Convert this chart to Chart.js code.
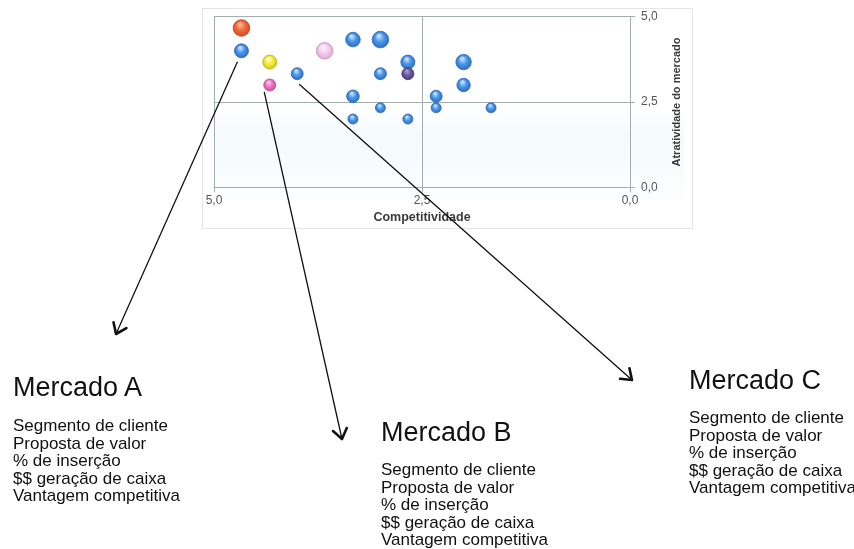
<!DOCTYPE html>
<html>
<head>
<meta charset="utf-8">
<script src="https://cdn.jsdelivr.net/npm/chart.js@4.4.1/dist/chart.umd.min.js"></script>
<style>
  html, body { margin: 0; padding: 0; background: #ffffff; }
  #wrap { position: relative; width: 854px; height: 549px; overflow: hidden; }
  #c { position: absolute; left: 0; top: 0; }
  .blk { position: absolute; font-family: "Liberation Sans", Arial, sans-serif; color: #111; }
  .ttl { font-size: 27px; line-height: 30px; white-space: nowrap; }
  .body { font-size: 17px; line-height: 17.6px; white-space: nowrap; }
</style>
</head>
<body>
<div id="wrap">
  <canvas id="c" width="854" height="549"></canvas>
  <div class="blk ttl" style="left:13px; top:372px;">Mercado A</div>
  <div class="blk body" style="left:13px; top:417px;">Segmento de cliente<br>Proposta de valor<br>% de inserção<br>$$ geração de caixa<br>Vantagem competitiva</div>
  <div class="blk ttl" style="left:381px; top:417px;">Mercado B</div>
  <div class="blk body" style="left:381px; top:461px;">Segmento de cliente<br>Proposta de valor<br>% de inserção<br>$$ geração de caixa<br>Vantagem competitiva</div>
  <div class="blk ttl" style="left:689px; top:365px;">Mercado C</div>
  <div class="blk body" style="left:689px; top:409px;">Segmento de cliente<br>Proposta de valor<br>% de inserção<br>$$ geração de caixa<br>Vantagem competitiva</div>
</div>
<script>
// ---- data ----
const xTitle = "Competitividade";
const yTitle = "Atratividade do mercado";
const tickValues = [0, 2.5, 5];

const blueComp = [4.67, 3.33, 3.00, 2.67, 4.00, 3.00, 3.33, 3.00, 3.33, 2.67, 2.33, 2.33, 2.00, 2.00, 1.67];
const blueAtr  = [4.00, 4.33, 4.33, 3.67, 3.33, 3.33, 2.67, 2.33, 2.00, 2.00, 2.67, 2.33, 3.67, 3.00, 2.33];
const blueSize = [7, 7.3, 8.3, 7, 6, 6, 6.3, 5, 5, 5, 6, 5, 7.7, 6.7, 5];

const orangeComp = [4.67];  const orangeAtr = [4.67];  const orangeSize = [8.3];
const yellowComp = [4.33];  const yellowAtr = [3.67];  const yellowSize = [7];
const pinkComp   = [4.33];  const pinkAtr   = [3.00];  const pinkSize   = [6];
const lilacComp  = [3.67];  const lilacAtr  = [4.00];  const lilacSize  = [8.3];
const purpleComp = [2.67];  const purpleAtr = [3.33];  const purpleSize = [6];

function pts(xs, ys, rs) { return xs.map((x, i) => ({ x: x, y: ys[i], r: rs[i] })); }

function glossy(light, base, dark) {
  return (ctx) => {
    const ch = ctx.chart;
    const raw = ctx.raw;
    if (!ch.chartArea || !raw || !ch.scales.x) return base;
    const x = ch.scales.x.getPixelForValue(raw.x);
    const y = ch.scales.y.getPixelForValue(raw.y);
    const r = raw.r;
    const g = ch.ctx.createRadialGradient(x - r * 0.2, y - r * 0.5, r * 0.05, x, y, r * 1.05);
    g.addColorStop(0, light);
    g.addColorStop(0.5, base);
    g.addColorStop(1, dark);
    return g;
  };
}

function ds(data, light, base, dark, edge) {
  return { data: data, backgroundColor: glossy(light, base, dark), borderColor: edge, borderWidth: 0.8, hoverRadius: 0 };
}

const fmt = (v) => v.toFixed(1).replace('.', ',');
const FONT = '"Liberation Sans", Arial, sans-serif';

const deco = {
  id: 'deco',
  beforeDraw(chart) {
    const c = chart.ctx;
    c.save();
    c.fillStyle = '#ffffff';
    c.fillRect(202.5, 8.5, 490, 220);
    c.strokeStyle = '#e4e6e6';
    c.lineWidth = 1;
    c.strokeRect(202.5, 8.5, 490, 220);
    const g = c.createLinearGradient(0, 108, 0, 200);
    g.addColorStop(0, 'rgba(220,238,246,0)');
    g.addColorStop(0.3, 'rgba(220,238,246,0.3)');
    g.addColorStop(1, 'rgba(220,238,246,0.08)');
    c.fillStyle = g;
    c.fillRect(214, 108, 470, 92);
    c.restore();
  },
  afterDraw(chart) {
    const c = chart.ctx;
    const a = chart.chartArea;
    c.save();
    c.fillStyle = '#3a3a3a';
    c.textAlign = 'center';
    c.textBaseline = 'middle';
    c.font = 'bold 12.5px ' + FONT;
    c.fillText(xTitle, (a.left + a.right) / 2, 218);
    c.font = 'bold 11px ' + FONT;
    c.translate(677, (a.top + a.bottom) / 2);
    c.rotate(-Math.PI / 2);
    c.fillText(yTitle, 0, 0);
    c.restore();

    // arrows anchored on bubbles
    const blue0 = chart.getDatasetMeta(5).data[0];
    const blue4 = chart.getDatasetMeta(5).data[4];
    const pink0 = chart.getDatasetMeta(3).data[0];
    arrow(c, blue0.x - 4, blue0.y + 11, 116, 334);
    arrow(c, pink0.x - 5.5, pink0.y + 7, 342, 439);
    arrow(c, blue4.x + 2, blue4.y + 10.5, 632, 380);
  }
};

function arrow(c, x1, y1, x2, y2) {
  c.save();
  c.strokeStyle = '#111';
  c.lineWidth = 1.3;
  c.beginPath();
  c.moveTo(x1, y1);
  c.lineTo(x2, y2);
  c.stroke();
  const ang = Math.atan2(y2 - y1, x2 - x1);
  const L = 12, sp = Math.PI / 5;
  c.lineWidth = 2.6;
  c.lineCap = 'round';
  c.lineJoin = 'round';
  c.beginPath();
  c.moveTo(x2 - L * Math.cos(ang - sp), y2 - L * Math.sin(ang - sp));
  c.lineTo(x2, y2);
  c.lineTo(x2 - L * Math.cos(ang + sp), y2 - L * Math.sin(ang + sp));
  c.stroke();
  c.restore();
}

const gridColor = '#a3adad';

new Chart(document.getElementById('c'), {
  type: 'bubble',
  data: {
    datasets: [
      ds(pts(purpleComp, purpleAtr, purpleSize), '#b0a4dc', '#6c5ca2', '#4a3c78', '#43376e'),
      ds(pts(orangeComp, orangeAtr, orangeSize), '#ffc0a0', '#f26c40', '#cc4a24', '#bc4624'),
      ds(pts(yellowComp, yellowAtr, yellowSize), '#fffde0', '#f6ee3c', '#d0c21e', '#bcae24'),
      ds(pts(pinkComp, pinkAtr, pinkSize), '#ffd8f0', '#ee78c2', '#c8519e', '#b44890'),
      ds(pts(lilacComp, lilacAtr, lilacSize), '#fff6fe', '#f7cdf0', '#dcaad4', '#bc94b4'),
      ds(pts(blueComp, blueAtr, blueSize), '#d6ebff', '#4b98ea', '#2a6cc2', '#2f68b0')
    ]
  },
  options: {
    responsive: false,
    animation: false,
    events: [],
    layout: { padding: { left: 214, top: 16.7, right: 184, bottom: 331.7 } },
    plugins: { legend: { display: false }, tooltip: { enabled: false } },
    scales: {
      x: {
        type: 'linear', reverse: true, min: 0, max: 5,
        afterBuildTicks: (s) => { s.ticks = tickValues.map(v => ({ value: v })); },
        afterFit: (s) => { s.height = 30; },
        grid: { color: gridColor, lineWidth: 1, tickLength: 5, drawTicks: true },
        border: { color: gridColor, width: 1 },
        ticks: { callback: (v) => fmt(v), color: '#555', font: { size: 12, family: FONT }, padding: 1, maxRotation: 0 }
      },
      y: {
        type: 'linear', position: 'right', min: 0, max: 5,
        afterBuildTicks: (s) => { s.ticks = tickValues.map(v => ({ value: v })); },
        afterFit: (s) => { s.width = 40; },
        grid: { color: gridColor, lineWidth: 1, tickLength: 5, drawTicks: true },
        border: { color: gridColor, width: 1 },
        ticks: { callback: (v) => fmt(v), color: '#555', font: { size: 12, family: FONT }, padding: 6 }
      }
    }
  },
  plugins: [deco]
});
</script>
</body>
</html>
